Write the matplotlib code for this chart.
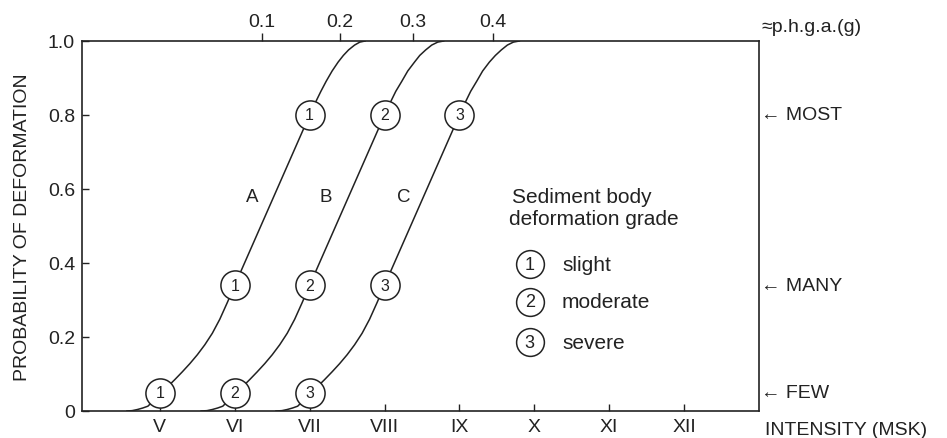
import numpy as np
import matplotlib
matplotlib.use('Agg')
import matplotlib.pyplot as plt

plt.rcParams['font.family'] = ['Liberation Sans', 'DejaVu Sans']

# intensity (MSK) tick positions and labels
int_ticks = [5, 6, 7, 8, 9, 10, 11, 12]
int_labels = ['V', 'VI', 'VII', 'VIII', 'IX', 'X', 'XI', 'XII']

# approx. peak horizontal ground acceleration, placed on the intensity scale
pga_pos = [6.36, 7.40, 8.38, 9.45]
pga_labels = ['0.1', '0.2', '0.3', '0.4']

# curves (probability levels along each curve)
curve_prob = [0.0, 0.001, 0.004, 0.008, 0.013, 0.045, 0.085, 0.106, 0.128,
              0.152, 0.179, 0.21, 0.248, 0.293, 0.34, 0.57, 0.80, 0.831,
              0.864, 0.891, 0.919, 0.943, 0.961, 0.976, 0.989, 0.997, 1.0]
curve_A = [4.56, 4.63, 4.70, 4.77, 4.84, 5.0, 5.2, 5.3, 5.4, 5.5, 5.6, 5.7,
           5.8, 5.9, 6.0, 6.5, 7.0, 7.07, 7.15, 7.22, 7.3, 7.38, 7.45, 7.52,
           7.6, 7.67, 7.74]
curve_B = [5.55, 5.63, 5.70, 5.77, 5.84, 6.0, 6.2, 6.3, 6.4, 6.5, 6.6, 6.7,
           6.8, 6.9, 7.0, 7.5, 8.0, 8.07, 8.15, 8.23, 8.31, 8.4, 8.47, 8.55,
           8.63, 8.71, 8.79]
curve_C = [6.55, 6.63, 6.70, 6.77, 6.84, 7.0, 7.2, 7.3, 7.4, 7.5, 7.6, 7.7,
           7.8, 7.9, 8.0, 8.5, 9.0, 9.07, 9.15, 9.23, 9.31, 9.4, 9.48, 9.56,
           9.64, 9.72, 9.80]

# circled grade markers: few / many / most
grade_levels = [0.05, 0.34, 0.80]
marks_A = [5, 6, 7]
marks_B = [6, 7, 8]
marks_C = [7, 8, 9]

grades = ['1', '2', '3']
grade_names = ['slight', 'moderate', 'severe']
side_labels = ['FEW', 'MANY', 'MOST']

ink = '#222222'
fs = 14

fig = plt.figure(figsize=(9.47, 4.39), dpi=100)
ax = fig.add_axes([82/947, 1-412/439, 677/947, 370/439])

def circle(x, y, txt, ms=21, tfs=11.5):
    ax.plot(x, y, 'o', ms=ms, mfc='white', mec=ink, mew=1.1, zorder=4,
            clip_on=False)
    ax.text(x, y, txt, ha='center', va='center', fontsize=tfs, color=ink,
            zorder=5)

for xs, marks, g in [(curve_A, marks_A, '1'), (curve_B, marks_B, '2'),
                     (curve_C, marks_C, '3')]:
    ax.plot(xs, curve_prob, color=ink, lw=1.1, zorder=3)
    for mx, my in zip(marks, grade_levels):
        circle(mx, my, g)

# curve letters
ax.text(6.23, 0.58, 'A', ha='center', va='center', fontsize=13.5, color=ink)
ax.text(7.21, 0.58, 'B', ha='center', va='center', fontsize=13.5, color=ink)
ax.text(8.25, 0.58, 'C', ha='center', va='center', fontsize=13.5, color=ink)

# legend block
lfs = 15
ax.text(9.70, 0.581, 'Sediment body', ha='left', va='center', fontsize=lfs, color=ink)
ax.text(9.66, 0.519, 'deformation grade', ha='left', va='center', fontsize=lfs, color=ink)
leg_y = [0.397, 0.295, 0.186]
for g, name, ly in zip(grades, grade_names, leg_y):
    circle(9.94, ly, g, ms=20, tfs=13)
    ax.text(10.37, ly, name, ha='left', va='center', fontsize=lfs, color=ink)

ax.set_xlim(3.96, 13.0)
ax.set_ylim(0, 1)
ax.set_xticks(int_ticks)
ax.set_xticklabels(int_labels)
ax.set_yticks([0, 0.2, 0.4, 0.6, 0.8, 1.0])
ax.set_yticklabels(['0', '0.2', '0.4', '0.6', '0.8', '1.0'])
ax.tick_params(axis='x', direction='in', top=True, bottom=True, length=5,
               width=1.0, color=ink, labelsize=fs, labelcolor=ink, pad=5)
ax.tick_params(axis='y', direction='in', left=True, right=False, length=5,
               width=1.0, color=ink, labelsize=fs, labelcolor=ink, pad=5)
for sp in ax.spines.values():
    sp.set_color(ink)
    sp.set_linewidth(1.2)

# top p.h.g.a. axis
ax2 = ax.twiny()
ax2.set_xlim(ax.get_xlim())
ax2.set_xticks(pga_pos)
ax2.set_xticklabels(pga_labels)
ax2.tick_params(axis='x', direction='out', length=6, width=1.0, color=ink,
                labelsize=fs, labelcolor=ink, pad=2)
for sp in ax2.spines.values():
    sp.set_visible(False)

# right side labels
for lab, ly in zip(side_labels, grade_levels):
    ax.text(1.003, ly, '\u2190 ' + lab, transform=ax.get_yaxis_transform(),
            ha='left', va='center', fontsize=fs, color=ink)

ax.text(1.004, 1.04, '\u2248p.h.g.a.(g)', transform=ax.transAxes,
        ha='left', va='center', fontsize=fs, color=ink)
ax.text(1.009, -0.049, 'INTENSITY (MSK)', transform=ax.transAxes,
        ha='left', va='center', fontsize=fs, color=ink)
fig.text(23/947, 1-227/439, 'PROBABILITY OF DEFORMATION', rotation=90,
         ha='center', va='center', fontsize=fs, color=ink)

fig.savefig('out.png', dpi=100, facecolor='white')
